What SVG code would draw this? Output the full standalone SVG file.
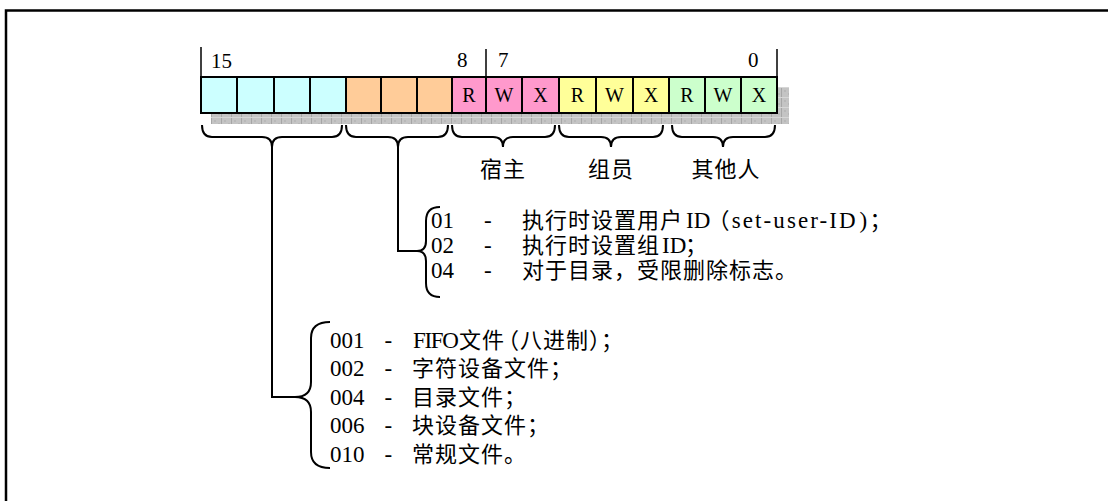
<svg xmlns="http://www.w3.org/2000/svg" width="1108" height="501" viewBox="0 0 1108 501">
<style>
.frame{fill:none;stroke:#000;stroke-width:2.5}
.box{stroke:#000;stroke-width:2}
.c{fill:#ccffff}.o{fill:#ffcc99}.p{fill:#ff99cc}.y{fill:#ffff99}.g{fill:#ccffcc}
.tick{stroke:#000;stroke-width:1.5}
.ln{font-family:'Liberation Serif','Noto Sans CJK SC',serif;font-size:23px;fill:#000}
.bit{font-family:'Liberation Serif',serif;font-size:21px;fill:#000}
.rwx{font-family:'Liberation Serif',serif;font-size:20px;fill:#000;text-anchor:middle}
.cjk{font-family:'Noto Sans CJK SC',sans-serif;font-size:22px;letter-spacing:1px}
.lbl{font-family:'Noto Sans CJK SC',sans-serif;font-size:22px;letter-spacing:1px;fill:#000;text-anchor:middle}
.br{fill:none;stroke:#000;stroke-width:2}
</style>
<defs>
<pattern id="sh" width="10" height="10" patternUnits="userSpaceOnUse" x="211" y="87">
<rect width="10" height="10" fill="#c4c4c4"/>
<rect x="0" y="0" width="1" height="10" fill="#a6a6a6"/>
<rect x="0" y="0" width="10" height="1" fill="#d6d6d6"/>
<rect x="3" y="3" width="2" height="2" fill="#b8b8b8"/>
<rect x="7" y="6" width="2" height="2" fill="#b8b8b8"/>
</pattern>
</defs>
<rect width="1108" height="501" fill="#fff"/>
<path class="frame" d="M6,501 L6,10.5 L1108,10.5"/>

<g id="bitfield">
<rect x="211" y="87" width="578" height="37" fill="url(#sh)"/>
<line class="tick" x1="201" y1="47" x2="201" y2="77"/>
<line class="tick" x1="486" y1="49" x2="486" y2="77"/>
<line class="tick" x1="777" y1="49" x2="777" y2="77"/>
<text class="bit" x="211" y="68">15</text>
<text class="bit" x="457" y="67">8</text>
<text class="bit" x="498" y="67">7</text>
<text class="bit" x="748" y="67">0</text>
<g id="type-bits">
<rect class="box c" x="201" y="77" width="36" height="36"/>
<rect class="box c" x="237" y="77" width="37" height="36"/>
<rect class="box c" x="274" y="77" width="36" height="36"/>
<rect class="box c" x="310" y="77" width="36" height="36"/>
</g>
<g id="special-bits">
<rect class="box o" x="346" y="77" width="35" height="36"/>
<rect class="box o" x="381" y="77" width="36" height="36"/>
<rect class="box o" x="417" y="77" width="35" height="36"/>
</g>
<g id="owner-bits">
<rect class="box p" x="452" y="77" width="34" height="36"/>
<rect class="box p" x="486" y="77" width="36" height="36"/>
<rect class="box p" x="522" y="77" width="37" height="36"/>
<text class="rwx" x="469" y="101.5">R</text>
<text class="rwx" x="504" y="101.5">W</text>
<text class="rwx" x="540.5" y="101.5">X</text>
</g>
<g id="group-bits">
<rect class="box y" x="559" y="77" width="37" height="36"/>
<rect class="box y" x="596" y="77" width="37" height="36"/>
<rect class="box y" x="633" y="77" width="36" height="36"/>
<text class="rwx" x="577.5" y="101.5">R</text>
<text class="rwx" x="614.5" y="101.5">W</text>
<text class="rwx" x="651" y="101.5">X</text>
</g>
<g id="other-bits">
<rect class="box g" x="669" y="77" width="36" height="36"/>
<rect class="box g" x="705" y="77" width="36" height="36"/>
<rect class="box g" x="741" y="77" width="36" height="36"/>
<text class="rwx" x="687" y="101.5">R</text>
<text class="rwx" x="723" y="101.5">W</text>
<text class="rwx" x="759" y="101.5">X</text>
</g>
</g>

<g id="labels">
<text class="lbl" x="503" y="176.5">宿主</text>
<text class="lbl" x="611" y="176.5">组员</text>
<text class="lbl" x="726" y="176.5">其他人</text>
</g>

<g id="connectors">
<path class="br" d="M202,125 Q202,137 212,137 L262,137 Q272,137 272,147 Q272,137 282,137 L332,137 Q342,137 342,125"/>
<path class="br" d="M346,125 Q346,137 356,137 L388,137 Q398,137 398,147 Q398,137 408,137 L438,137 Q448,137 448,125"/>
<path class="br" d="M452,125 Q452,137 462,137 L493,137 Q503,137 503,147 Q503,137 513,137 L545,137 Q555,137 555,125"/>
<path class="br" d="M559,125 Q559,137 569,137 L601,137 Q611,137 611,147 Q611,137 621,137 L653,137 Q663,137 663,125"/>
<path class="br" d="M672,125 Q672,137 682,137 L713,137 Q723,137 723,147 Q723,137 733,137 L765,137 Q775,137 775,125"/>
<path class="br" d="M398,147 L398,251 L417,251"/>
<path class="br" d="M272,147 L272,397 L295,397"/>
<path class="br" d="M440,207 Q426,207 426,221 L426,241 Q426,251 417,251 Q426,251 426,261 L426,283 Q426,297 440,297"/>
<path class="br" d="M330,322 Q311,322 311,338 L311,382 Q311,397 295,397 Q311,397 311,412 L311,452 Q311,468 330,468"/>
</g>

<g id="special-list">
<text class="ln" y="228"><tspan x="431">01</tspan><tspan x="484">-</tspan><tspan class="cjk" x="522">执行时设置用户</tspan><tspan x="686">ID</tspan><tspan class="cjk" x="707.5">（</tspan><tspan x="731.7" letter-spacing="2.1">set-user-ID</tspan><tspan x="859.5">)</tspan><tspan class="cjk" x="869.5">；</tspan></text>
<text class="ln" y="253"><tspan x="431">02</tspan><tspan x="484">-</tspan><tspan class="cjk" x="522">执行时设置组</tspan><tspan x="662">ID</tspan><tspan class="cjk" x="685">；</tspan></text>
<text class="ln" y="278"><tspan x="431">04</tspan><tspan x="484">-</tspan><tspan class="cjk" x="522">对于目录，受限删除标志。</tspan></text>
</g>

<g id="type-list">
<text class="ln" y="347.5"><tspan x="330">001</tspan><tspan x="384.5">-</tspan><tspan x="413" letter-spacing="-1.3">FIFO</tspan><tspan class="cjk" x="459">文件</tspan><tspan class="cjk" x="497">（八进制）；</tspan></text>
<text class="ln" y="376"><tspan x="330">002</tspan><tspan x="384.5">-</tspan><tspan class="cjk" x="412">字符设备文件；</tspan></text>
<text class="ln" y="404.5"><tspan x="330">004</tspan><tspan x="384.5">-</tspan><tspan class="cjk" x="412">目录文件；</tspan></text>
<text class="ln" y="433"><tspan x="330">006</tspan><tspan x="384.5">-</tspan><tspan class="cjk" x="412">块设备文件；</tspan></text>
<text class="ln" y="462"><tspan x="330">010</tspan><tspan x="384.5">-</tspan><tspan class="cjk" x="412">常规文件。</tspan></text>
</g>
</svg>
